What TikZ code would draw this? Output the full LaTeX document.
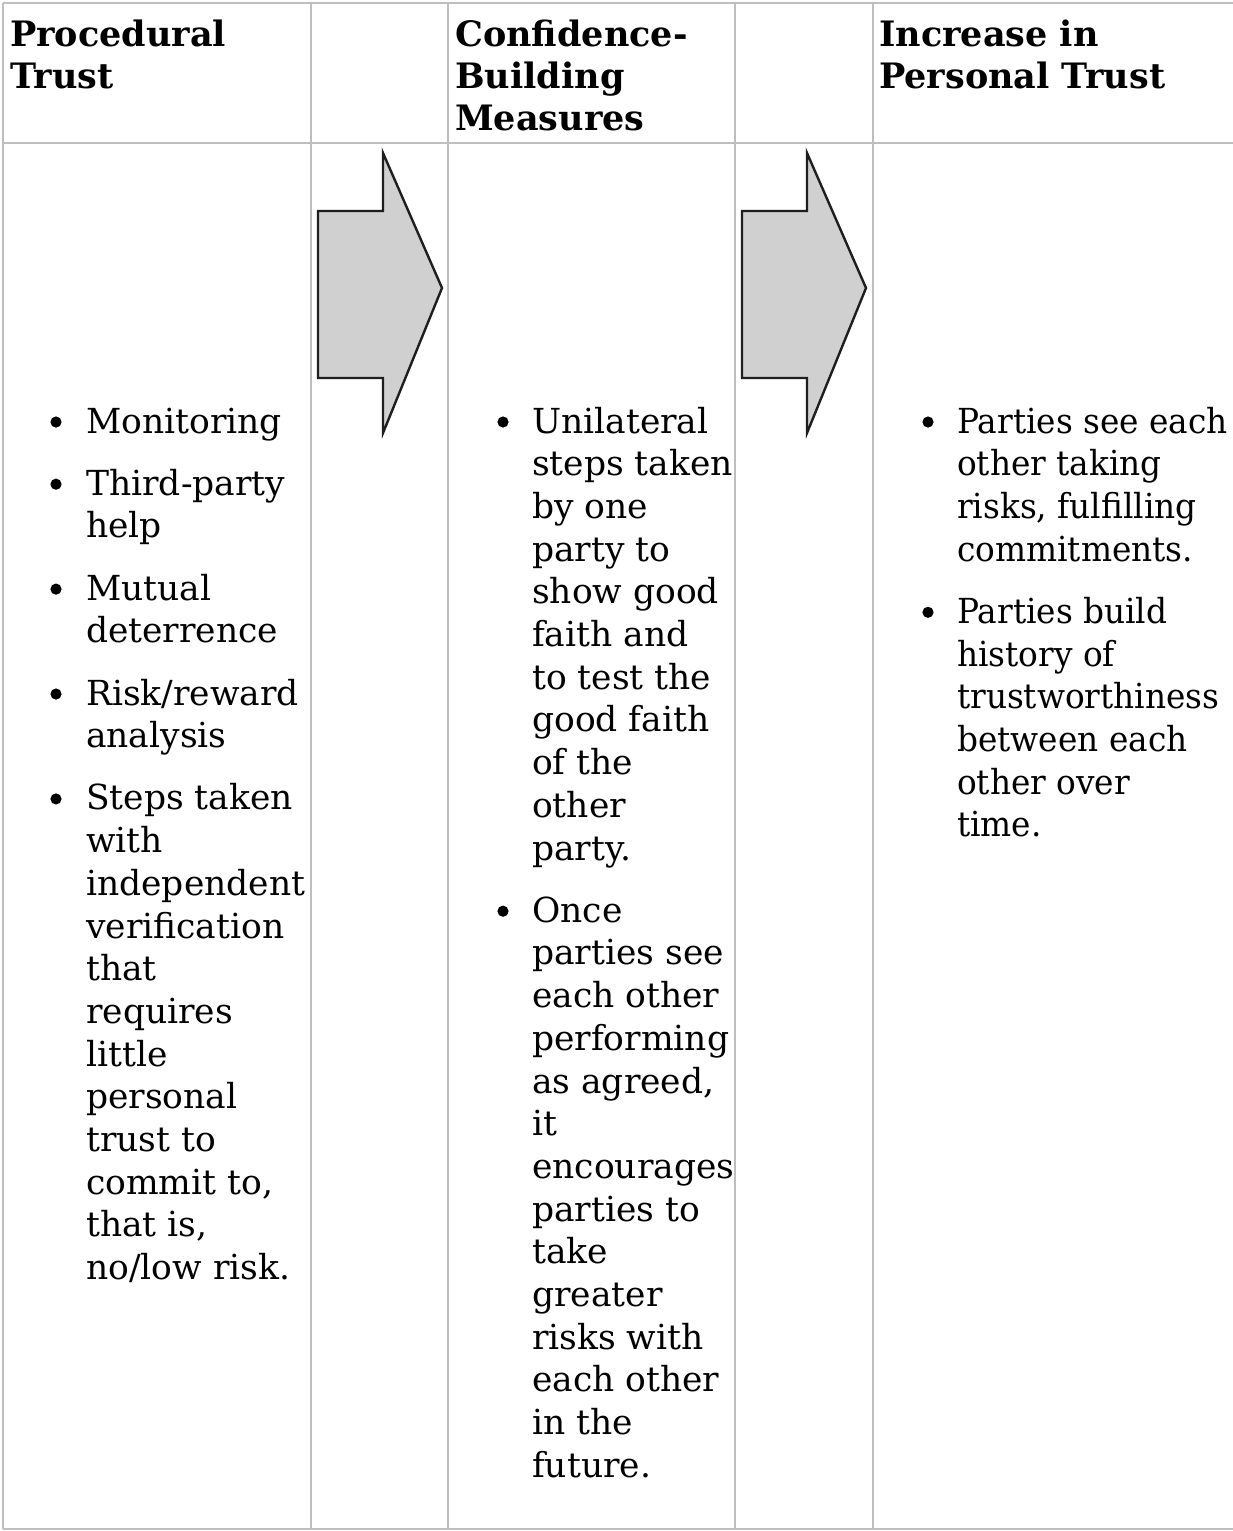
\documentclass[tikz,border=0pt]{standalone}
\usepackage{fontspec}
\setmainfont{DejaVu Serif}
\newfontfamily\narrowserif[FakeStretch=0.95]{DejaVu Serif}
\definecolor{rulegray}{RGB}{190,190,190}
\definecolor{arrowgray}{RGB}{208,208,208}
\definecolor{arrowline}{RGB}{30,30,30}
% lines stacked with the first line's baseline as the box baseline
\newcommand{\stackedlines}[1]{\begin{tabular}[t]{@{}l@{}}#1\end{tabular}}
\begin{document}
\begin{tikzpicture}[x=1pt,y=-1pt,
  rule/.style={draw=rulegray,line width=2.6pt},
  headtext/.style={anchor=base west,inner sep=0pt,
    font=\bfseries\fontsize{35}{42}\selectfont},
  itemtext/.style={anchor=base west,inner sep=0pt,
    font=\fontsize{34.5}{42.7}\selectfont},
  narrowitem/.style={itemtext,font=\narrowserif\fontsize{34.5}{42.7}\selectfont},
  flowarrow/.style={fill=arrowgray,draw=arrowline,line width=2.4pt,line join=miter},
  dot/.style={fill=black}]
\fill[white] (0,0) rectangle (1233,1531);
\useasboundingbox (0,0) rectangle (1233,1531);

% table rules
\draw[rule] (3,3) -- (1233,3);
\draw[rule] (3,143) -- (1233,143);
\draw[rule] (3,1529) -- (1233,1529);
\foreach \cx in {3,311,448,735,873}
  \draw[rule] (\cx,3) -- (\cx,1529);

% header row
\node[headtext] (h1) at (10,46) {\stackedlines{Procedural\\Trust}};
\node[headtext] (h3) at (455,46) {\stackedlines{Confidence-\\Building\\Measures}};
\node[headtext] (h5) at (879,46) {\stackedlines{Increase in\\Personal Trust}};

% block arrows between the columns
\draw[flowarrow] (318,211) -- (383,211) -- (383,153) -- (442,288)
  -- (383,433) -- (383,378) -- (318,378) -- cycle;
\draw[flowarrow] (742,211) -- (807,211) -- (807,153) -- (866,288)
  -- (807,433) -- (807,378) -- (742,378) -- cycle;

% first column
\node[itemtext] (a1) at (86,433) {\stackedlines{Monitoring}};
\node[itemtext] (a2) at (86,495.2) {\stackedlines{Third-party\\help}};
\node[itemtext] (a3) at (86,600.1) {\stackedlines{Mutual\\deterrence}};
\node[itemtext] (a4) at (86,705) {\stackedlines{Risk/reward\\analysis}};
\node[itemtext] (a5) at (86,809.9) {\stackedlines{Steps taken\\with\\independent\\verification\\that\\requires\\little\\personal\\trust to\\commit to,\\that is,\\no/low risk.}};
\foreach \by in {433,495.2,600.1,705,809.9}
  \fill[dot] (56,\by-11) circle (5.6);

% third column
\node[itemtext] (b1) at (532,433) {\stackedlines{Unilateral\\steps taken\\by one\\party to\\show good\\faith and\\to test the\\good faith\\of the\\other\\party.}};
\node[itemtext] (b2) at (532,922.2) {\stackedlines{Once\\parties see\\each other\\performing\\as agreed,\\it\\encourages\\parties to\\take\\greater\\risks with\\each other\\in the\\future.}};
\foreach \by in {433,922.2}
  \fill[dot] (503,\by-11) circle (5.6);

% fifth column
\node[narrowitem] (c1) at (957,433) {\stackedlines{Parties see each\\other taking\\risks, fulfilling\\commitments.}};
\node[narrowitem] (c2) at (957,623.3) {\stackedlines{Parties build\\history of\\trustworthiness\\between each\\other over\\time.}};
\foreach \by in {433,623.3}
  \fill[dot] (928,\by-11) circle (5.6);
\end{tikzpicture}
\end{document}
